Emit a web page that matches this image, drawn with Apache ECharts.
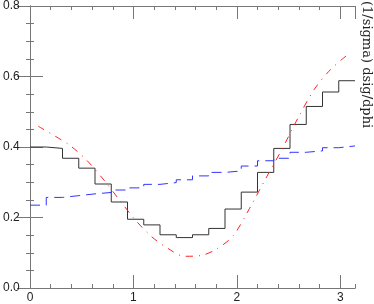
<!DOCTYPE html>
<html><head><meta charset="utf-8">
<script src="https://cdn.jsdelivr.net/npm/echarts@6/dist/echarts.min.js"></script>
<style>html,body{margin:0;padding:0;background:#fff}#c{width:374px;height:304px}</style>
</head><body><div id="c"></div>
<script>
// ---- data ----
const nBins = 20;
const xMax = Math.PI;
// black histogram (one value per bin of width pi/20)
const histValues = [0.400, 0.396, 0.368, 0.340, 0.295, 0.244, 0.195, 0.179, 0.151, 0.143,
                    0.151, 0.169, 0.224, 0.272, 0.328, 0.396, 0.464, 0.515, 0.556, 0.588];
// blue dashed histogram
const blueValues = [0.235, 0.257, 0.262, 0.267, 0.271, 0.278, 0.284, 0.294, 0.299, 0.307,
                    0.318, 0.328, 0.332, 0.346, 0.361, 0.368, 0.385, 0.389, 0.398, 0.403];
// red dash-dot curve, sampled at bin centres
const redValues = [0.459, 0.432, 0.403, 0.362, 0.309, 0.250, 0.192, 0.145, 0.112, 0.090,
                   0.092, 0.111, 0.148, 0.225, 0.310, 0.393, 0.483, 0.564, 0.620, 0.660];
const xTickLabels = ['0', '1', '2', '3'];
const yTickLabels = ['0.0', '0.2', '0.4', '0.6', '0.8'];
const yAxisTitle = '(1/sigma) dsig/dphi';

// ---- build ----
const binW = xMax / nBins;
function stepData(vals) {
  const d = vals.map((v, i) => [i * binW, v]);
  d.push([xMax, vals[vals.length - 1]]);
  return d;
}
const curveData = redValues.map((v, i) => [(i + 0.5) * binW, v]);

const frame = '#777';
const labelFont = { color: '#222', fontSize: 12, fontFamily: 'Liberation Sans' };

function xAx(pos, interval, tickLen, withLabels) {
  return {
    type: 'value', position: pos, min: 0, max: xMax, interval: interval,
    axisLine: { show: true, lineStyle: { color: frame, width: 1 } },
    axisTick: { show: true, inside: true, length: tickLen, lineStyle: { color: frame, width: 1 } },
    axisLabel: withLabels ? Object.assign({
      show: true, margin: 4, showMaxLabel: false,
      formatter: v => { const i = Math.round(v); return Math.abs(v - i) < 1e-6 && xTickLabels[i] !== undefined ? xTickLabels[i] : ''; }
    }, labelFont) : { show: false },
    splitLine: { show: false }
  };
}
function yAx(pos, withLabels) {
  return {
    type: 'value', position: pos, min: 0, max: 0.8, interval: 0.2,
    axisLine: { show: true, lineStyle: { color: frame, width: 1 } },
    axisTick: { show: true, inside: true, length: 13, lineStyle: { color: frame, width: 1 } },
    minorTick: { show: true, splitNumber: 4, length: 4, lineStyle: { color: frame, width: 1 } },
    axisLabel: withLabels ? Object.assign({
      show: true, margin: 27, align: 'left',
      formatter: v => yTickLabels[Math.round(v / 0.2)]
    }, labelFont) : { show: false },
    splitLine: { show: false }, minorSplitLine: { show: false }
  };
}

const chart = echarts.init(document.getElementById('c'), null, { renderer: 'canvas' });
chart.setOption({
  animation: false,
  backgroundColor: '#fff',
  grid: { left: 27, right: 19, top: 4, bottom: 16, containLabel: false },
  xAxis: [
    xAx('bottom', 1, 13, true),
    xAx('bottom', 0.2, 4, false),
    xAx('top', 1, 13, false),
    xAx('top', 0.2, 4, false)
  ],
  yAxis: [yAx('left', true), yAx('right', false)],
  series: [
    { type: 'line', xAxisIndex: 0, yAxisIndex: 0, step: 'end', data: stepData(histValues), symbol: 'none',
      lineStyle: { color: '#333', width: 1 } },
    { type: 'line', xAxisIndex: 0, yAxisIndex: 0, step: 'end', data: stepData(blueValues), symbol: 'none',
      lineStyle: { color: '#3333ff', width: 1, type: [10, 6] } },
    { type: 'line', xAxisIndex: 0, yAxisIndex: 0, smooth: 0.3, data: curveData, symbol: 'none',
      lineStyle: { color: '#ff2020', width: 1, type: [7, 6, 1, 6] } }
  ],
  graphic: [{
    type: 'text', x: 366, y: 1, rotation: -Math.PI / 2,
    style: { text: yAxisTitle, fontSize: 13, fontFamily: 'DejaVu Serif', fill: '#222',
             align: 'left', verticalAlign: 'middle' }
  }]
});
</script>
</body></html>
